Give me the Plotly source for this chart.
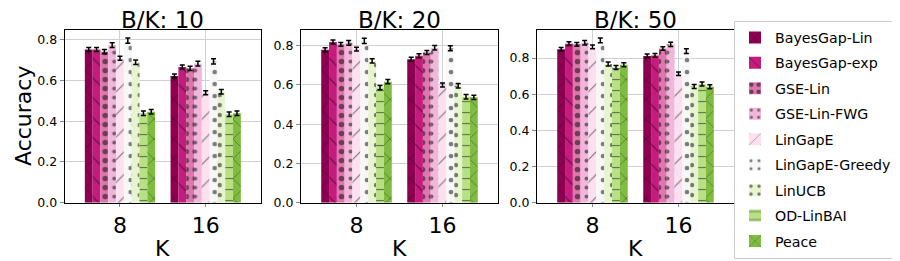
import plotly.graph_objects as go

# ---- data ----
k_labels = ["8", "16"]
budgets = ["B/K: 10", "B/K: 20", "B/K: 50"]
algorithms = ["BayesGap-Lin", "BayesGap-exp", "GSE-Lin", "GSE-Lin-FWG", "LinGapE",
              "LinGapE-Greedy", "LinUCB", "OD-LinBAI", "Peace"]

# accuracy [K=8, K=16] per algorithm
acc_bk10 = [[0.753, 0.622], [0.753, 0.667], [0.742, 0.660], [0.774, 0.683], [0.710, 0.540],
            [0.796, 0.694], [0.690, 0.545], [0.439, 0.434], [0.447, 0.439]]
acc_bk20 = [[0.780, 0.731], [0.819, 0.749], [0.807, 0.766], [0.815, 0.790], [0.783, 0.600],
            [0.825, 0.787], [0.723, 0.596], [0.587, 0.540], [0.617, 0.537]]
acc_bk50 = [[0.849, 0.812], [0.880, 0.815], [0.876, 0.853], [0.885, 0.876], [0.862, 0.713],
            [0.898, 0.839], [0.767, 0.643], [0.748, 0.656], [0.763, 0.641]]
err_all = [0.010, 0.010, 0.010, 0.012, 0.010, 0.013, 0.011, 0.011, 0.011]

colors = ["#8e0152", "#c51b7d", "#de77ae", "#f1b6da", "#fde0ef",
          "#f7f7f7", "#e6f5d0", "#b8e186", "#7fbc41"]
patterns = ["x", "\\", ".", ".", "/", ".", ".", "-", "x"]
pat_size = [14, 14, 9, 9, 16, 12, 10, 11, 14]
pat_sol = [0.08, 0.08, 0.3, 0.15, 0.07, 0.12, 0.15, 0.1, 0.08]

panels = [acc_bk10, acc_bk20, acc_bk50]
yranges = [0.848, 0.88, 0.955]

W, H = 900, 261
xdom = [(56.7, 253.0), (293.0, 490.0), (529.0, 726.0)]
ybot, ytop = 200.0, 22.7

fig = go.Figure()
for p, data in enumerate(panels):
    for i, alg in enumerate(algorithms):
        fig.add_trace(go.Bar(
            x=[0, 1], y=data[i],
            name=alg, legendgroup=alg, showlegend=(p == 0),
            marker=dict(color=colors[i], line=dict(width=0),
                        pattern=dict(shape=patterns[i], fgcolor="black", bgcolor=colors[i],
                                     size=pat_size[i], solidity=pat_sol[i])),
            error_y=dict(type="data", array=[err_all[i]] * 2, color="black",
                         thickness=1.5, width=2.5),
            xaxis=f"x{p+1}" if p else "x", yaxis=f"y{p+1}" if p else "y",
        ))

font = "DejaVu Sans, Liberation Sans, sans-serif"
layout = dict(
    width=W, height=H, margin=dict(l=0, r=0, t=0, b=0),
    paper_bgcolor="white", plot_bgcolor="white",
    barmode="group", bargap=0.18, bargroupgap=0,
    font=dict(family=font, color="black"),
    showlegend=True,
    legend=dict(x=726 / W, y=1 - 13 / H, xanchor="left", yanchor="top",
                bordercolor="#cccccc", borderwidth=1, bgcolor="white",
                font=dict(size=14.2), tracegroupgap=4, itemwidth=30),
)
annotations = []
for p in range(3):
    sfx = str(p + 1) if p else ""
    x0, x1 = xdom[p]
    layout["xaxis" + sfx] = dict(
        domain=[x0 / W, x1 / W], range=[-0.645, 1.645], anchor="y" + sfx,
        tickmode="array", tickvals=[0, 1], ticktext=k_labels,
        tickfont=dict(size=22), ticks="outside", ticklen=3, tickcolor="#888",
        showgrid=True, gridcolor="#d0d0d0", gridwidth=1,
        showline=True, linecolor="black", linewidth=1, mirror=True, zeroline=False,
    )
    layout["yaxis" + sfx] = dict(
        domain=[1 - ybot / H, 1 - ytop / H], range=[0, yranges[p]], anchor="x" + sfx,
        tickmode="array", tickvals=[0, 0.2, 0.4, 0.6, 0.8],
        ticktext=["0.0", "0.2", "0.4", "0.6", "0.8"], tickfont=dict(size=12.5),
        ticks="outside", ticklen=4, tickcolor="#888",
        showgrid=True, gridcolor="#d0d0d0", gridwidth=1,
        showline=True, linecolor="black", linewidth=1, mirror=True, zeroline=False,
    )
    cx = (x0 + x1) / 2 / W
    annotations.append(dict(text=budgets[p], x=cx, y=1 - 12.5 / H, xref="paper", yref="paper",
                            xanchor="center", yanchor="middle", showarrow=False,
                            font=dict(size=23)))
    annotations.append(dict(text="K", x=cx, y=1 - 247 / H, xref="paper", yref="paper",
                            xanchor="center", yanchor="middle", showarrow=False,
                            font=dict(size=22)))
annotations.append(dict(text="Accuracy", x=15 / W, y=1 - 111 / H, xref="paper", yref="paper",
                        xanchor="center", yanchor="middle", showarrow=False, textangle=-90,
                        font=dict(size=22)))
layout["annotations"] = annotations
fig.update_layout(**layout)
fig.write_html("out.html")
